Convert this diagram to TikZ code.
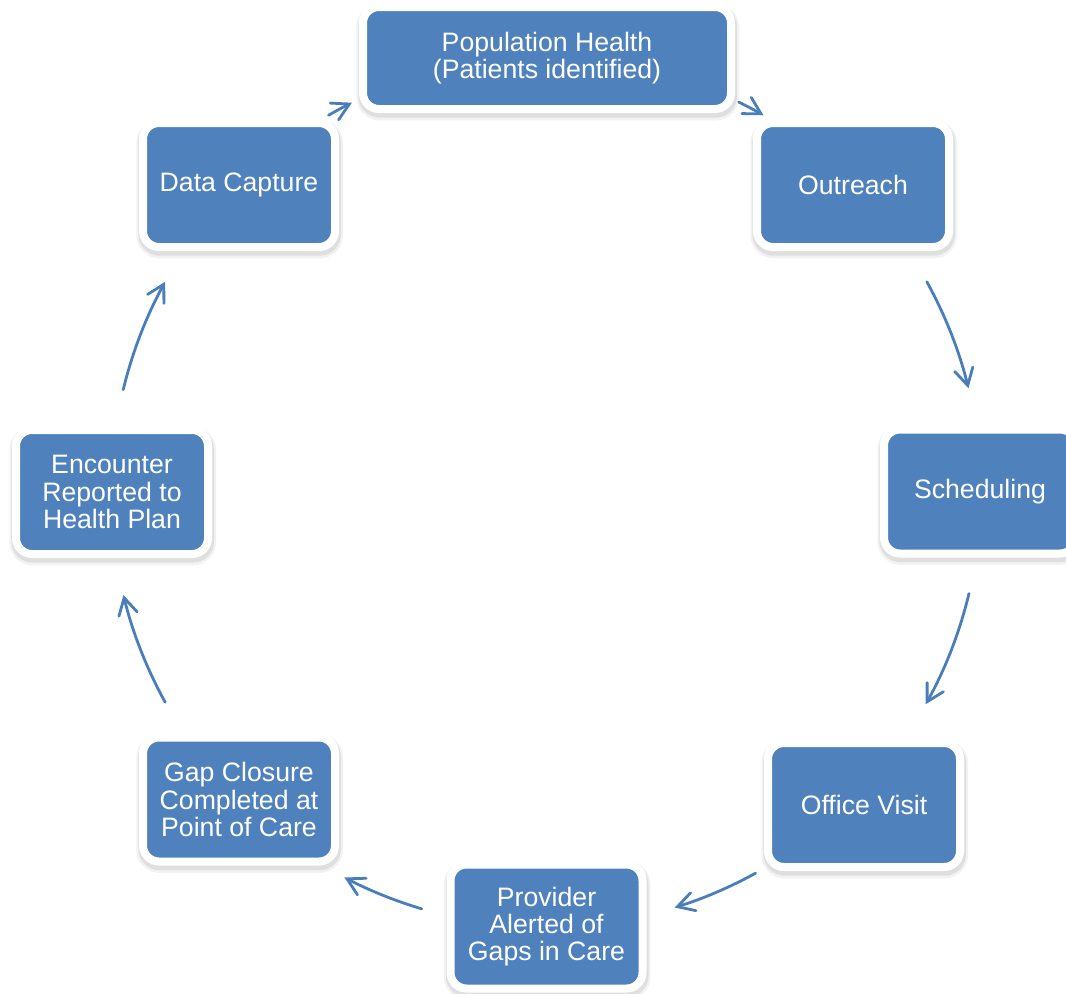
\documentclass[tikz,border=0pt]{standalone}
\usepackage{fontspec}
\setmainfont{Liberation Sans}
\usetikzlibrary{arrows.meta,calc}
\definecolor{boxblue}{HTML}{4F81BD}
\definecolor{arrowblue}{HTML}{4A7EBB}

\begin{document}
\begin{tikzpicture}[x=0.75pt,y=0.75pt,
  stepbox/.style={rectangle, rounded corners=12pt, fill=boxblue, draw=white,
    line width=6pt, minimum width=144pt, minimum height=93pt, inner sep=0pt,
    text=white, align=center, font=\fontsize{20pt}{20.5pt}\selectfont,
    preaction={draw=black, line width=11pt, draw opacity=0.05,
      transform canvas={xshift=0.5pt,yshift=-3pt}},
    preaction={draw=black, line width=8pt, draw opacity=0.08,
      transform canvas={xshift=0.5pt,yshift=-2.5pt}}},
  widebox/.style={stepbox, minimum width=276pt, minimum height=76.5pt},
  cyc/.style={draw=arrowblue, line width=2.1pt, line cap=round,
    -{Straight Barb[length=12.5pt,width=14pt,line cap=round]}}]

  \useasboundingbox (0,0) rectangle (1066,-993);

  % process steps around the cycle
  \node[widebox] (pop) at (547,-58)   {Population Health\\(Patients identified)};
  \node[stepbox] (out) at (853,-185)  {Outreach};
  \node[stepbox] (sch) at (980,-491.5){Scheduling};
  \node[stepbox] (off) at (864,-805)  {Office Visit};
  \node[stepbox] (pro) at (546.5,-926.5) {Provider\\Alerted of\\Gaps in Care};
  \node[stepbox] (gap) at (239,-799.5){Gap Closure\\Completed at\\Point of Care};
  \node[stepbox] (enc) at (112,-492)  {Encounter\\Reported to\\Health Plan};
  \node[stepbox] (dat) at (239,-185)  {Data Capture};

  % arcs of the cycle, all on one circle
  \coordinate (ctr) at (546,-492);
  \def\R{435}
  \coordinate (dp) at ($(ctr)+(120:\R)$);
  \coordinate (po) at ($(ctr)+(63.7:\R)$);
  \coordinate (os) at ($(ctr)+(28.9:\R)$);
  \coordinate (so) at ($(ctr)+(-13.5:\R)$);
  \coordinate (op) at ($(ctr)+(-61.2:\R)$);
  \coordinate (pg) at ($(ctr)+(-106.6:\R)$);
  \coordinate (ge) at ($(ctr)+(208.9:\R)$);
  \coordinate (ed) at ($(ctr)+(166.4:\R)$);

  \draw[cyc] (dp) arc[start angle=120,   end angle=116.5,  radius=\R];
  \draw[cyc] (po) arc[start angle=63.7,  end angle=60,     radius=\R];
  \draw[cyc] (os) arc[start angle=28.9,  end angle=13.8,   radius=\R];
  \draw[cyc] (so) arc[start angle=-13.5, end angle=-29.2,  radius=\R];
  \draw[cyc] (op) arc[start angle=-61.2, end angle=-72.8,  radius=\R];
  \draw[cyc] (pg) arc[start angle=-106.6,end angle=-117.6, radius=\R];
  \draw[cyc] (ge) arc[start angle=208.9, end angle=193.7,  radius=\R];
  \draw[cyc] (ed) arc[start angle=166.4, end angle=151.1,  radius=\R];
\end{tikzpicture}
\end{document}
